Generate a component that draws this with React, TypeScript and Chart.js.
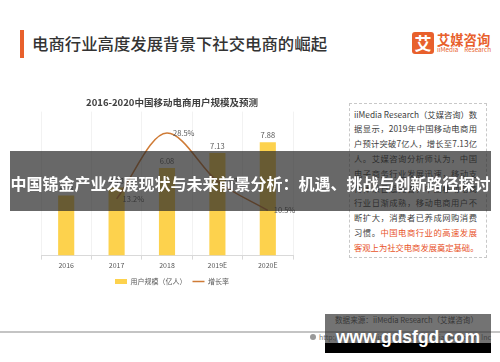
import React, { useEffect, useRef } from "react";
import { Chart, registerables } from "chart.js";

Chart.register(...registerables);

const categories = ["2016", "2017", "2018", "2019E", "2020E"];
const userScale = [4.18, 4.73, 6.08, 7.13, 7.88];
const growthRate: (number | null)[] = [null, 13.2, 28.5, 17.3, 10.5];
const seriesNames = ["用户规模（亿人）", "增长率"];
const chartTitle = "2016-2020中国移动电商用户规模及预测";

const slideTitle = "电商行业高度发展背景下社交电商的崛起";
const bannerText = "中国锦金产业发展现状与未来前景分析：机遇、挑战与创新路径探讨";
const sourceText = "数据来源：iiMedia Research（艾媒咨询）";
const footerText = "http://www.iimedia.cn    ©2019 iiMedia Research Inc";
const watermark = "www.gdsfgd.com";
const noteLines: { text: string; hl?: string }[] = [
  { text: "iiMedia Research（艾媒咨询）数" },
  { text: "据显示，2019年中国移动电商用" },
  { text: "户预计突破7亿人，增长至7.13亿" },
  { text: "人。艾媒咨询分析师认为，中国" },
  { text: "电子商务行业发展迅速，移动支" },
  { text: "付体系日趋完善，中国移动电商" },
  { text: "行业日渐成熟，移动电商用户不" },
  { text: "断扩大，消费者已养成网购消费" },
  { text: "习惯。", hl: "中国电商行业的高速发展" },
  { text: "", hl: "客观上为社交电商发展奠定基础。" },
];

const BAR = "#FDD24D";
const LINE = "#CF7B36";
const CJK = '"Noto Sans CJK SC", sans-serif';

const labelPlugin = {
  id: "valueLabels",
  afterDatasetsDraw(chart: any) {
    const ctx = chart.ctx;
    ctx.save();
    ctx.font = `7.5px ${CJK}`;
    ctx.fillStyle = "#595959";
    const bars = chart.getDatasetMeta(0).data;
    bars.forEach((el: any, i: number) => {
      ctx.textAlign = "center";
      ctx.textBaseline = "bottom";
      ctx.fillText(userScale[i].toFixed(2), el.x, el.y - 3);
    });
    const pts = chart.getDatasetMeta(1).data;
    pts.forEach((el: any, i: number) => {
      const v = growthRate[i];
      if (v == null) return;
      ctx.textAlign = "left";
      ctx.textBaseline = "middle";
      ctx.fillText(v.toFixed(1) + "%", el.x + 6, el.y);
    });
    ctx.restore();
  },
};

function ChartBox() {
  const ref = useRef<HTMLCanvasElement | null>(null);
  useEffect(() => {
    if (!ref.current) return;
    Chart.defaults.font.family = CJK;
    const chart = new Chart(ref.current, {
      type: "bar",
      data: {
        labels: categories,
        datasets: [
          {
            type: "bar",
            label: seriesNames[0],
            data: userScale,
            backgroundColor: BAR,
            yAxisID: "y",
            order: 1,
            categoryPercentage: 1,
            barPercentage: 0.32,
          } as any,
          {
            type: "line",
            label: seriesNames[1],
            data: growthRate,
            borderColor: LINE,
            backgroundColor: LINE,
            borderWidth: 1.5,
            pointRadius: 0,
            cubicInterpolationMode: "monotone",
            yAxisID: "y1",
            order: 0,
          } as any,
        ],
      },
      options: {
        responsive: false,
        animation: false,
        layout: { padding: { left: 41, right: 17, top: 0, bottom: 0 } },
        plugins: {
          title: {
            display: true,
            text: chartTitle,
            color: "#404040",
            font: { size: 9.5, weight: "bold" },
            padding: { top: 4.3, bottom: 3.9 },
          },
          tooltip: { enabled: false },
          legend: {
            position: "bottom",
            labels: {
              color: "#595959",
              font: { size: 7 },
              usePointStyle: true,
              pointStyleWidth: 12,
              boxHeight: 5,
              padding: 6,
              generateLabels: () => [
                {
                  text: seriesNames[0],
                  fillStyle: BAR,
                  strokeStyle: BAR,
                  lineWidth: 0,
                  pointStyle: "rect",
                  datasetIndex: 0,
                  hidden: false,
                  fontColor: "#595959",
                },
                {
                  text: seriesNames[1],
                  fillStyle: LINE,
                  strokeStyle: LINE,
                  lineWidth: 1.5,
                  pointStyle: "line",
                  datasetIndex: 1,
                  hidden: false,
                  fontColor: "#595959",
                },
              ] as any,
            },
          },
        },
        scales: {
          x: {
            grid: {
              offset: true,
              color: "rgba(0,0,0,0.05)",
              tickColor: "#d9d9d9",
              tickLength: 4,
            },
            border: { color: "#d9d9d9" },
            ticks: { color: "#595959", font: { size: 7 }, padding: 2 },
          },
          y: { display: false, min: 0, max: 10 },
          y1: {
            display: true,
            min: 0,
            max: 33.5,
            position: "right",
            grid: { display: false, drawTicks: false },
            border: { display: false },
            ticks: { display: false },
            afterFit: (s: any) => {
              s.width = 10;
            },
          },
        },
      },
      plugins: [labelPlugin],
    });
    return () => chart.destroy();
  }, []);
  return <canvas ref={ref} width={320} height={203} />;
}

export default function App() {
  return (
    <div
      style={{
        position: "absolute",
        left: 0,
        top: 0,
        width: 500,
        height: 362,
        background: "#fff",
        overflow: "hidden",
        fontFamily: CJK,
      }}
    >
      {/* slide header */}
      <div style={{ position: "absolute", left: 20, top: 30, width: 4, height: 28, background: "#E8602C" }} />
      <div
        style={{
          position: "absolute",
          left: 32,
          top: 33,
          fontSize: 16.4,
          lineHeight: "20px",
          fontWeight: 500,
          color: "#333",
          whiteSpace: "nowrap",
        }}
      >
        {slideTitle}
      </div>
      <div
        style={{
          position: "absolute",
          left: 412,
          top: 32,
          width: 22,
          height: 22,
          borderRadius: 3,
          background: "#E8602C",
          color: "#fff",
          fontWeight: "bold",
          fontSize: 17,
          lineHeight: "22px",
          textAlign: "center",
        }}
      >
        艾
      </div>
      <div
        style={{
          position: "absolute",
          left: 437,
          top: 32,
          fontSize: 13.3,
          lineHeight: "16px",
          fontWeight: "bold",
          color: "#E8602C",
          whiteSpace: "nowrap",
        }}
      >
        艾媒咨询
      </div>
      <div
        style={{
          position: "absolute",
          left: 437,
          top: 46,
          width: 54,
          fontSize: 6.3,
          lineHeight: "8px",
          color: "#E8602C",
          whiteSpace: "nowrap",
          textAlign: "justify",
          textAlignLast: "justify",
        }}
      >
        iiMedia Research
      </div>

      {/* chart */}
      <div style={{ position: "absolute", left: 0, top: 92, width: 320, height: 203 }}>
        <ChartBox />
      </div>

      {/* note box */}
      <div
        style={{
          position: "absolute",
          left: 349,
          top: 103,
          width: 136,
          height: 153,
          border: "1px dashed #c8c8c8",
        }}
      />
      <div style={{ position: "absolute", left: 354, top: 106.6, width: 123 }}>
        {noteLines.map((l, i) => (
          <div
            key={i}
            style={{
              height: 14.8,
              lineHeight: "14.8px",
              fontSize: 8.3,
              color: "#404040",
              whiteSpace: "nowrap",
              textAlign: "justify",
              textAlignLast: "justify",
            }}
          >
            {l.text}
            {l.hl ? <span style={{ color: "#E8542A" }}>{l.hl}</span> : null}
          </div>
        ))}
      </div>

      {/* footer */}
      <div style={{ position: "absolute", left: 0, top: 331, width: 500, height: 1.5, background: "#c4c4c4" }} />
      <div
        style={{
          position: "absolute",
          left: 335,
          top: 315,
          fontSize: 7.6,
          lineHeight: "10px",
          color: "#595959",
          whiteSpace: "nowrap",
        }}
      >
        {sourceText}
      </div>
      <div
        style={{
          position: "absolute",
          left: 310,
          top: 334,
          width: 6,
          height: 6,
          borderRadius: 3,
          background: "#999",
        }}
      />
      <div
        style={{
          position: "absolute",
          left: 319,
          top: 333,
          width: 172,
          fontSize: 7,
          lineHeight: "9px",
          color: "#777",
          whiteSpace: "nowrap",
          textAlign: "justify",
          textAlignLast: "justify",
        }}
      >
        {footerText}
      </div>

      {/* overlay banner */}
      <div
        style={{
          position: "absolute",
          left: 10,
          top: 151,
          width: 481,
          height: 60,
          background: "rgba(40,40,40,0.7)",
        }}
      />
      <div
        style={{
          position: "absolute",
          left: 10,
          top: 151,
          width: 481,
          height: 60,
          lineHeight: "64px",
          color: "#fff",
          fontWeight: "bold",
          fontSize: 16,
          textAlign: "center",
          whiteSpace: "nowrap",
        }}
      >
        {bannerText}
      </div>

      {/* watermark */}
      <div
        style={{
          position: "absolute",
          left: 325,
          top: 314,
          width: 166,
          height: 29,
          background: "rgba(40,40,40,0.65)",
        }}
      />
      <div style={{ position: "absolute", left: 325, top: 343, width: 166, height: 10, background: "#000" }} />
      <div
        style={{
          position: "absolute",
          left: 325,
          top: 326,
          width: 166,
          textAlign: "center",
          fontFamily: '"Liberation Sans", Arial, sans-serif',
          fontWeight: "bold",
          fontSize: 17.5,
          lineHeight: "22px",
          color: "#fff",
          whiteSpace: "nowrap",
        }}
      >
        {watermark}
      </div>
    </div>
  );
}
